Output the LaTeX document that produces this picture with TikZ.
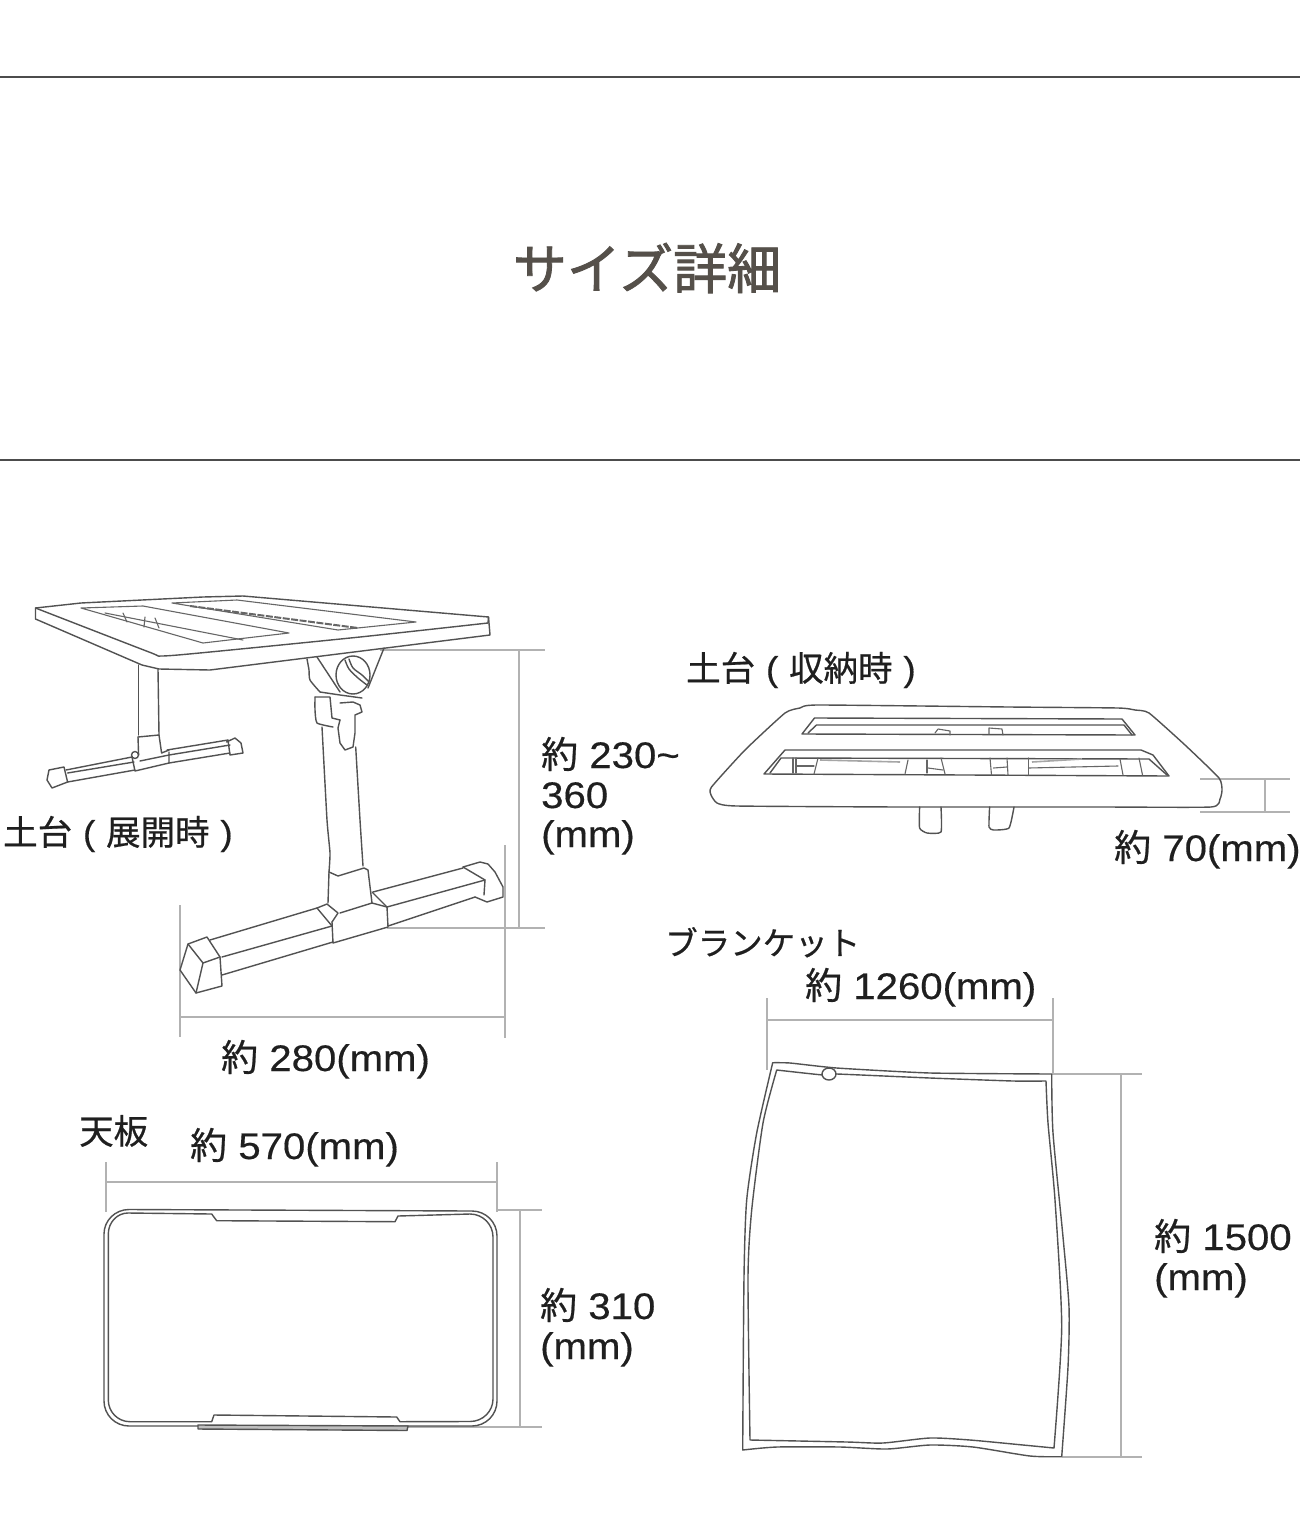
\documentclass[tikz,border=0pt]{standalone}
\usepackage{fontspec}
\setmainfont{Liberation Sans}[FakeStretch=1.085,FakeBold=0.4]
\newfontfamily\jp{Noto Sans CJK JP}[FakeBold=0.6]
\newfontfamily\jptitle{Noto Sans CJK JP}[FakeBold=1.6]
\begin{document}
\begin{tikzpicture}[x=1pt,y=-1pt,
  ink/.style={draw=black!68,line width=1.4pt,line join=round,line cap=round},
  thinink/.style={draw=black!60,line width=1.1pt,line join=round,line cap=round},
  dimline/.style={draw=black!30,line width=1.4pt},
  hrule/.style={draw=black!70,line width=1.1pt},
  lbl/.style={anchor=base west,inner sep=0pt,text=black!88,font=\fontsize{37}{37}\selectfont},
  captxt/.style={anchor=base west,inner sep=0pt,text=black!88,font=\fontsize{34.5}{37}\selectfont}]
\useasboundingbox (0,0) rectangle (1300,1536);
\fill[white] (0,0) rectangle (1300,1536);
% rules and title
\draw[hrule] (0,77) -- (1300,77);
\draw[hrule] (0,460) -- (1300,460);
\node[anchor=center,inner sep=0pt,text={rgb,255:red,85;green,80;blue,74}] (title) at (647,268)
  {\fontsize{54}{54}\selectfont\jptitle サイズ詳細};
% --- dimension lines
\draw[dimline] (380,650) -- (545,650);
\draw[dimline] (519,650) -- (519,928);
\draw[dimline] (387,928) -- (545,928);
\draw[dimline] (505,845) -- (505,1038);
\draw[dimline] (180,905) -- (180,1037);
\draw[dimline] (180,1017) -- (505,1017);
\draw[dimline] (1200,779) -- (1290,779);
\draw[dimline] (1200,812) -- (1290,812);
\draw[dimline] (1265,779) -- (1265,812);
\draw[dimline] (106,1162) -- (106,1212);
\draw[dimline] (497,1162) -- (497,1212);
\draw[dimline] (106,1182) -- (497,1182);
\draw[dimline] (497,1210) -- (542,1210);
\draw[dimline] (400,1427) -- (542,1427);
\draw[dimline] (520,1210) -- (520,1427);
\draw[dimline] (767,998) -- (767,1070);
\draw[dimline] (1053,998) -- (1053,1075);
\draw[dimline] (767,1020) -- (1053,1020);
\draw[dimline] (1053,1074) -- (1142,1074);
\draw[dimline] (1062,1457) -- (1142,1457);
\draw[dimline] (1121,1074) -- (1121,1457);
% --- unfolded table: top
\draw[ink] (35.5,608) -- (81,603) -- (203,597) -- (243,596) -- (488.5,617) -- (490,635) -- (210,670) -- (159,669) -- (142,665) -- (35.5,619) -- cycle;
\draw[ink] plot[smooth,tension=0.4] coordinates {(35.5,608) (149,652) (162,656) (210,652) (360,637) (488,623)};
\draw[ink] (488,623) -- (488.5,617);
% slots
\draw[thinink] (81,608) -- (143,606) -- (289,633) -- (203,643) -- cycle;
\draw[thinink] (105,613) -- (243,640);
\draw[thinink] (123,613) -- (127,622);
\draw[thinink] (145,617) -- (144,627);
\draw[thinink] (155,618) -- (159,628);
\draw[thinink] (172,603) -- (237,600) -- (416,622) -- (338,630) -- cycle;
\draw[draw=black!60,line width=2pt,dash pattern=on 7pt off 1.5pt] (190,606) -- (358,628);
% left leg and foot
\draw[ink] (138.6,665) -- (138.6,735);
\draw[ink] (158,669) -- (159,735);
\draw[ink] (138,737) -- (159,735) -- (161.6,753) -- (169,750);
\draw[ink] (138,737) -- (138.6,755);
\draw[ink] (132,757) -- (135,771) -- (169,763) -- (169,752);
\draw[ink] (140,761) -- (169,755);
\draw[ink] (135,755) circle (3.5);
\draw[ink] (66,770) -- (132,757);
\draw[ink] (67.6,773) -- (134,762);
\draw[ink] (67.6,782) -- (135,770);
\draw[ink] (167,750) -- (228,740);
\draw[ink] (169,755) -- (230,745);
\draw[ink] (169,763) -- (230,753);
\draw[ink] (49,770) -- (64,767) -- (67.6,782) -- (52,788) -- (47,780) -- cycle;
\draw[ink] (226.5,742) -- (235,738) -- (241,743) -- (243,753) -- (230,755) -- (228,740);
% mount and knob
\draw[ink] plot[smooth,tension=0.4] coordinates {(307,659) (309,670) (310,680) (320,692)};
\draw[ink] (317,657) -- (340,692);
\draw[ink] (353,675) ellipse (17 and 19);
\draw[ink] plot[smooth,tension=0.5] coordinates {(345,660) (349,669) (358,678) (367,685)};
\draw[ink] plot[smooth,tension=0.5] coordinates {(349,659) (353,668) (362,675) (369,682)};
\draw[ink] (384,648) -- (368,688);
\draw[ink] (320,692) -- (340,695) -- (362,698);
\draw[ink] (315,697) -- (330,697) -- (332,718) -- (340,720);
\draw[ink] plot[smooth,tension=0.3] coordinates {(315,697) (315,710) (317,723) (333,727)};
\draw[ink] (340,703) -- (353,702) -- (360,705) -- (362,712) -- (355,715) -- (355,733) -- (353,747) -- (345,750) -- (340,743) -- (338,728) -- (340,720);
% main leg
\draw[ink] plot[smooth,tension=0.3] coordinates {(322,727) (327,820) (330,853) (329,872)};
\draw[ink] plot[smooth,tension=0.3] coordinates {(355.7,747) (360,820) (363,866)};
% base
\draw[ink] (329,872) -- (338,876) -- (364,868) -- (368,870) -- (372,903);
\draw[ink] (329,872) -- (328,903);
\draw[ink] (210,940) -- (317,908);
\draw[ink] (222,957) -- (332,926);
\draw[ink] (222,975) -- (333,942);
\draw[ink] (317,908) -- (327,904) -- (338,913) -- (332,922);
\draw[ink] (317,908) -- (332,926);
\draw[ink] (332,922) -- (333,943) -- (388,927) -- (387,907) -- (372,903) -- (340,913);
\draw[ink] (372,892) -- (387,907);
\draw[ink] (373,892) -- (463,868);
\draw[ink] (387,907) -- (485,880);
\draw[ink] (388,926) -- (475,897);
\draw[ink] (463,867) -- (480,862) -- (488,864) -- (495,872) -- (503,887) -- (503,897) -- (487,902) -- (475,897);
\draw[ink] (463,867) -- (485,880) -- (484,895);
\draw[ink] (188,944) -- (207,937) -- (220,957) -- (222,986) -- (196,993) -- (180,970) -- cycle;
\draw[ink] (188,944) -- (203,963) -- (220,957);
\draw[ink] (203,963) -- (196,993);
% --- folded table
\draw[ink] plot[smooth cycle,tension=0.3] coordinates {(711.5,787) (745,750) (785,713) (800,708) (818,705) (1009,707) (1118,708) (1135,710) (1149,713) (1185,745) (1219,778) (1222,790) (1220,799) (1211,807) (1100,807) (904,807) (737,806) (717,803) (711,795)};
\draw[ink] (802,734) -- (814.5,718) -- (1122,719) -- (1135,735) -- cycle;
\draw[ink] (808,733) -- (816.5,725) -- (1124,725) -- (1132,735);
\draw[thinink] (935,733) -- (938,729) -- (950,731) -- (950,735);
\draw[thinink] (989,734) -- (989,728) -- (1002,729) -- (1003,735);
\draw[ink] (764,774) -- (785,750) -- (1141,750) -- (1153,755) -- (1169,776) -- cycle;
\draw[ink] (770,773) -- (781,758) -- (1149,759) -- (1167,775);
\draw[thinink] (793,758) -- (793,773);
\draw[thinink] (796,758) -- (796,773);
\draw[thinink] (797,766) -- (814,766);
\draw[thinink] (818,758) -- (814,774);
\draw[thinink] (908,760) -- (905,774);
\draw[thinink] (927,760) -- (927,773);
\draw[thinink] (941,758) -- (945,774);
\draw[thinink] (928,768) -- (943,770);
\draw[thinink] (990,758) -- (991.5,775);
\draw[thinink] (1007,758) -- (1008,775);
\draw[thinink] (993.5,768) -- (1007,767);
\draw[thinink] (1028.5,758) -- (1028.5,775);
\draw[thinink] (1028.5,768) -- (1118,766);
\draw[thinink] (1120,759) -- (1123,775);
\draw[thinink] (1139,758) -- (1142.5,775);
\draw[draw=black!35,line width=1.6pt] (820,760) -- (900,762);
\draw[draw=black!35,line width=1.6pt] (1032,762) -- (1082,759);
\draw[ink] plot[smooth,tension=0.3] coordinates {(919.6,807) (919.6,828) (927,833) (941,832) (941,807)};
\draw[ink] plot[smooth,tension=0.3] coordinates {(989.6,807) (989,827) (993.5,830) (1009,828) (1014,807)};
% --- top board
\draw[ink] (129,1209.5) -- (472,1211) arc[start angle=-90,end angle=0,x radius=25,y radius=25] -- (497,1401) arc[start angle=0,end angle=90,x radius=25,y radius=25] -- (129,1426) arc[start angle=90,end angle=180,x radius=25,y radius=25] -- (104,1234) arc[start angle=180,end angle=270,x radius=25,y radius=24.5] -- cycle;
\draw[ink] (128,1213) -- (211.7,1214) -- (216.7,1220.7) -- (395,1221.7) -- (398,1216) -- (470,1214) arc[start angle=-90,end angle=0,x radius=23,y radius=23] -- (493,1399) arc[start angle=0,end angle=90,x radius=23,y radius=22.5] -- (400,1421.7) -- (396.7,1417) -- (214,1415) -- (211.7,1421.7) -- (130,1421.7) arc[start angle=90,end angle=180,x radius=21.7,y radius=21.7] -- (108.3,1234) arc[start angle=180,end angle=270,x radius=19.7,y radius=21] -- cycle;
\draw[ink,fill=black!25] (198,1425) -- (408,1426) -- (407,1430.5) -- (198,1429) -- cycle;
% --- blanket
\draw[ink] plot[smooth,tension=0.3] coordinates {(772.7,1062.7) (790,1063) (836.7,1068) (930,1073) (1051.7,1074)} -- plot[smooth,tension=0.4] coordinates {(1051.7,1074) (1053,1133) (1063,1237) (1069,1307) (1068,1367) (1061.7,1456.7)} -- plot[smooth,tension=0.4] coordinates {(1061.7,1456.7) (1030,1456) (973,1447) (930,1445) (887,1449) (840,1447) (777,1447) (742.7,1450)} -- plot[smooth,tension=0.4] coordinates {(742.7,1450) (744,1277) (746.7,1200) (756.7,1133) (772.7,1062.7)};
\draw[ink] plot[smooth,tension=0.3] coordinates {(776.7,1070) (823,1075) (836.7,1074) (930,1078) (1013,1081) (1046,1081)} -- plot[smooth,tension=0.4] coordinates {(1046,1081) (1048,1123) (1055,1200) (1061.7,1327) (1054,1448)} -- plot[smooth,tension=0.4] coordinates {(1054,1448) (1023,1445) (970,1440) (930,1438) (883,1443) (847,1442) (750,1440)} -- plot[smooth,tension=0.4] coordinates {(750,1440) (748,1277) (751.7,1210) (763,1123) (776.7,1070)};
\draw[ink,fill=white] (829,1074) ellipse (7 and 6);
% --- labels
\node[captxt] (l1) at (3,845) {\jp 土台\hspace{3pt} {\rmfamily (}\hspace{3pt} 展開時\hspace{3pt} {\rmfamily )}};
\node[captxt] (l2) at (686,681) {\jp 土台\hspace{3pt} {\rmfamily (}\hspace{3pt} 収納時\hspace{3pt} {\rmfamily )}};
\node[captxt] (l3) at (79,1144) {\jp 天板};
\node[captxt,font=\fontsize{32.5}{37}\selectfont] (l4) at (665,955) {\jp ブランケット};
\node[lbl] (d1) at (541,768) {{\jp 約} 230\char"7E};
\node[lbl] (d1b) at (541,808) {360};
\node[lbl] (d1c) at (541,847) {(mm)};
\node[lbl] (d2) at (221,1071) {{\jp 約} 280(mm)};
\node[lbl] (d3) at (1114,861) {{\jp 約} 70(mm)};
\node[lbl] (d4) at (190,1159) {{\jp 約} 570(mm)};
\node[lbl] (d5) at (540,1319) {{\jp 約} 310};
\node[lbl] (d5b) at (540,1359) {(mm)};
\node[lbl] (d6) at (805,999) {{\jp 約} 1260(mm)};
\node[lbl] (d7) at (1154,1250) {{\jp 約} 1500};
\node[lbl] (d7b) at (1154,1290) {(mm)};
\end{tikzpicture}
\end{document}
